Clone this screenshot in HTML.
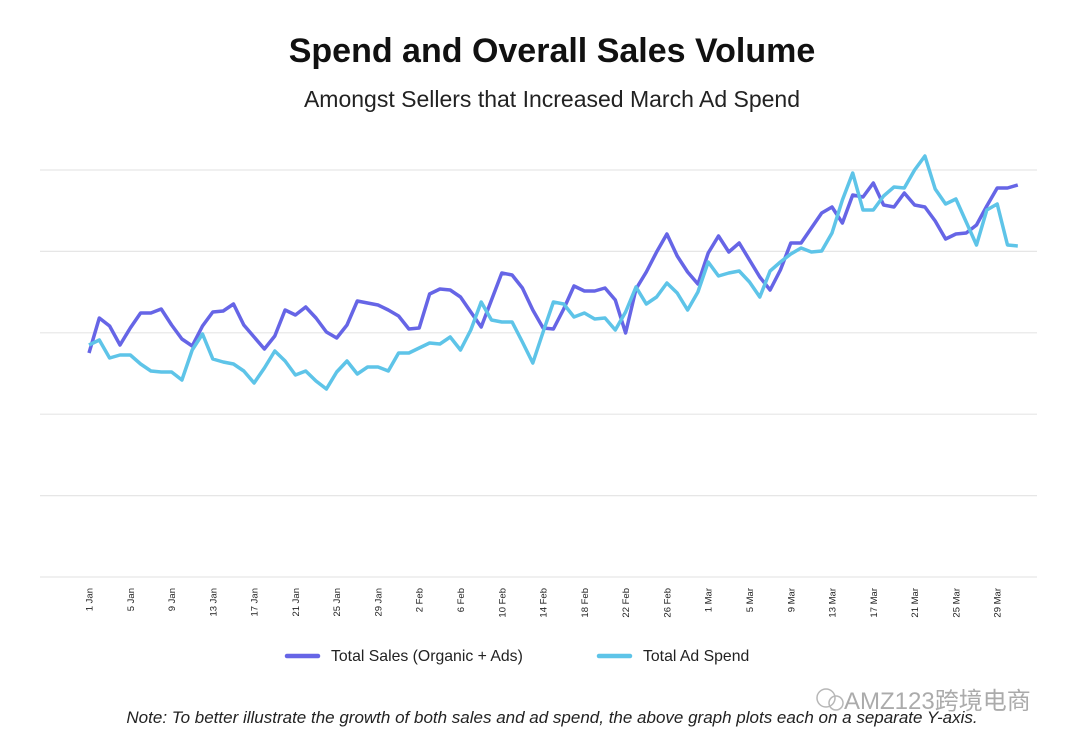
<!DOCTYPE html>
<html><head><meta charset="utf-8"><style>
body{margin:0;background:#fff;width:1080px;height:748px;overflow:hidden;font-family:"Liberation Sans",sans-serif}
</style></head><body>
<svg width="1080" height="748" viewBox="0 0 1080 748">
<text x="552" y="62" text-anchor="middle" font-size="34" font-weight="bold" fill="#111">Spend and Overall Sales Volume</text>
<text x="552" y="107" text-anchor="middle" font-size="23" fill="#222">Amongst Sellers that Increased March Ad Spend</text>
<g id="grid"></g>
<g id="xlabels"></g>
<g id="series"></g>
<g>
<g><line x1="287" y1="656" x2="318" y2="656" stroke="#6665e6" stroke-width="4.5" stroke-linecap="round"/><text x="331" y="661" font-size="15.8" fill="#222">Total Sales (Organic + Ads)</text></g>
<g><line x1="599" y1="656" x2="630" y2="656" stroke="#5ec4e8" stroke-width="4.5" stroke-linecap="round"/><text x="643" y="661" font-size="15.8" fill="#222">Total Ad Spend</text></g>
</g>
<g opacity="0.7">
<circle cx="826" cy="698" r="9" fill="none" stroke="#999" stroke-width="1.5"/><circle cx="836" cy="703" r="7" fill="none" stroke="#999" stroke-width="1.5"/>
<text x="844" y="709" font-size="24" fill="#888" font-family="'Liberation Sans','Noto Sans CJK SC',sans-serif">AMZ123跨境电商</text></g>
<text x="552" y="723" text-anchor="middle" font-size="17" font-style="italic" fill="#222">Note: To better illustrate the growth of both sales and ad spend, the above graph plots each on a separate Y-axis.</text>
</svg>
<script>
const sales=[224,259,251,232,249,264,264,268,252,238,231,251,265,266,273,252,240,228,241,267,262,270,259,245,239,252,276,274,272,267,261,248,249,283,288,287,280,265,250,277,304,302,289,267,249,248,268,291,286,286,289,277,244,288,305,325,343,321,305,293,324,341,325,334,317,300,287,307,334,334,349,364,370,354,382,380,394,372,370,384,372,370,356,338,343,344,352,371,389,389,392];
const spend=[232,237,219,222,222,213,206,205,205,197,227,243,218,215,213,206,194,209,226,216,202,206,196,188,205,216,203,210,210,206,224,224,229,234,233,240,227,247,275,257,255,255,235,214,245,275,273,260,264,258,259,247,265,290,273,280,294,284,267,285,315,301,304,306,295,280,306,315,323,329,325,326,344,377,404,367,367,381,390,389,407,421,388,373,378,355,332,367,373,332,331];
const tickLabels=["1 Jan","5 Jan","9 Jan","13 Jan","17 Jan","21 Jan","25 Jan","29 Jan","2 Feb","6 Feb","10 Feb","14 Feb","18 Feb","22 Feb","26 Feb","1 Mar","5 Mar","9 Mar","13 Mar","17 Mar","21 Mar","25 Mar","29 Mar"];
const gridValues=[0,81.4,162.8,244.2,325.6,407];
const NS="http://www.w3.org/2000/svg";
const x=i=>89+i*10.32;
const y=v=>577-v;
const grid=document.getElementById('grid');
gridValues.forEach(g=>{const l=document.createElementNS(NS,'line');


l.setAttribute('x1',40);l.setAttribute('x2',1037);l.setAttribute('y1',y(g));l.setAttribute('y2',y(g));
l.setAttribute('stroke','#e6e6e6');l.setAttribute('stroke-width','1.2');grid.appendChild(l);});
const xl=document.getElementById('xlabels');
tickLabels.forEach((t,k)=>{const e=document.createElementNS(NS,'text');


const px=x(k*4)+3.5;e.setAttribute('transform','translate('+px+',588) rotate(-90)');
e.setAttribute('text-anchor','end');e.setAttribute('font-size','9.5');e.setAttribute('fill','#222');e.textContent=t;xl.appendChild(e);});
const sg=document.getElementById('series');
function line(arr,color,name){const p=document.createElementNS(NS,'polyline');


p.setAttribute('points',arr.map((v,i)=>x(i).toFixed(1)+','+y(v).toFixed(1)).join(' '));
p.setAttribute('fill','none');p.setAttribute('stroke',color);p.setAttribute('stroke-width','3.5');p.setAttribute('stroke-linejoin','round');sg.appendChild(p);}
line(sales,'#6665e6','sales-line');
line(spend,'#5ec4e8','spend-line');
</script>
</body></html>
